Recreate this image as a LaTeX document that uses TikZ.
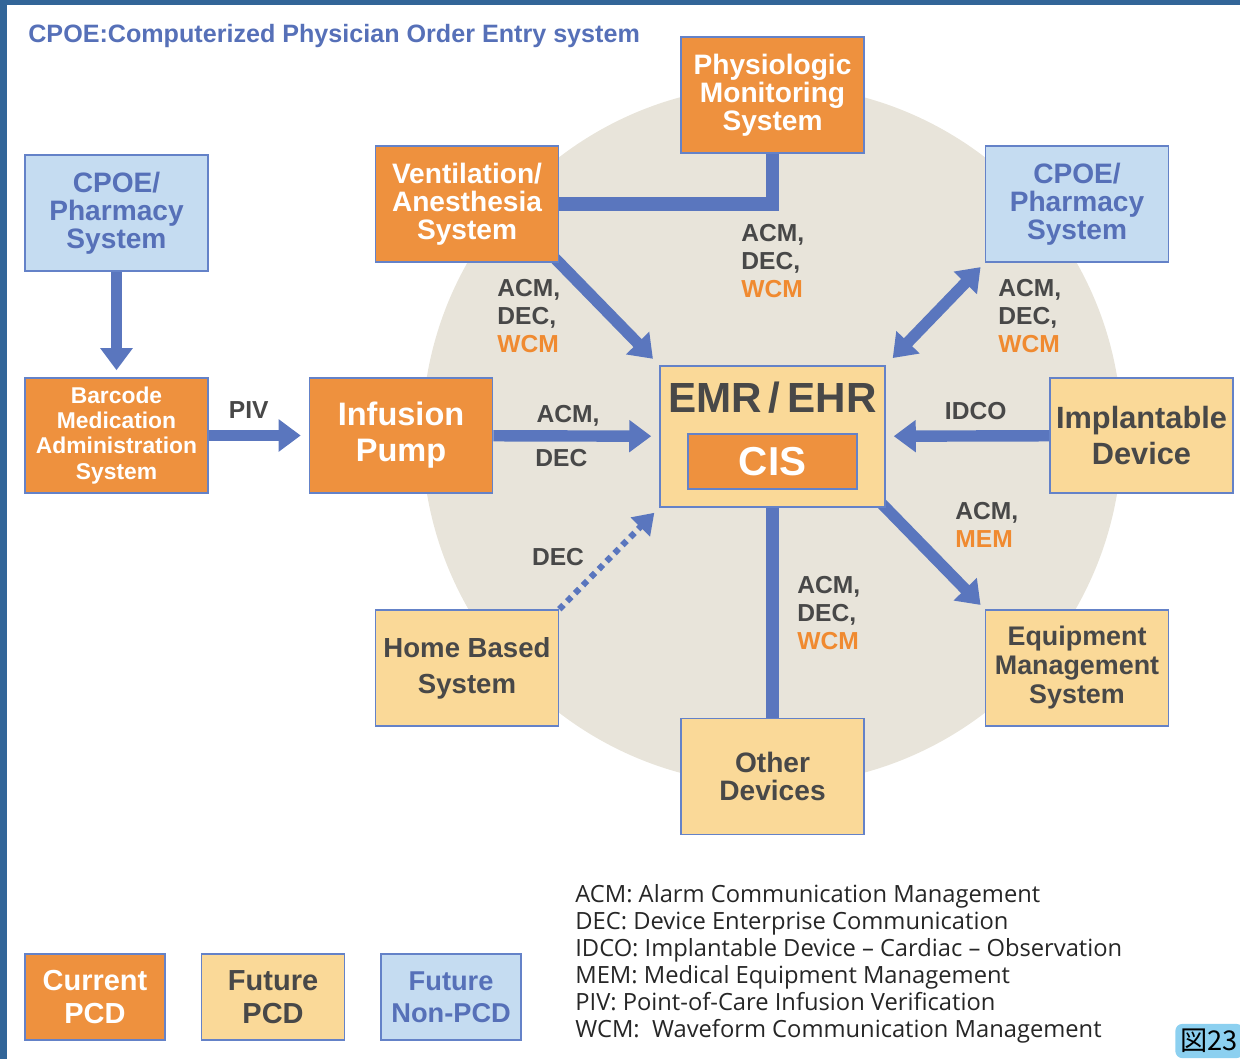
\documentclass[tikz,border=0pt]{standalone}
\usepackage{fontspec}
\setmainfont{Liberation Sans}
\newfontfamily\legendfont{Open Sans}
\newfontfamily\cjkfont{Noto Sans CJK JP}
\usetikzlibrary{positioning,arrows.meta,backgrounds}

\definecolor{framebg}{RGB}{50,101,152}
\definecolor{disc}{RGB}{232,228,218}
\definecolor{curpcd}{RGB}{238,145,62}
\definecolor{futpcd}{RGB}{250,217,152}
\definecolor{nonpcd}{RGB}{197,220,241}
\definecolor{linkblue}{RGB}{90,118,190}
\definecolor{boxline}{RGB}{100,130,200}
\definecolor{txtgray}{RGB}{72,72,72}
\definecolor{txtblue}{RGB}{86,112,184}
\definecolor{wcmorange}{RGB}{240,138,48}
\definecolor{badgeblue}{RGB}{140,208,240}

\begin{document}
\begin{tikzpicture}[x=0.02cm, y=-0.02cm, >={Triangle[length=0.44cm,width=0.62cm]},
  sys/.style={draw=boxline, line width=0.9pt, align=center, inner sep=0pt, minimum width=3.66cm, minimum height=2.32cm},
  cur/.style={sys, fill=curpcd, text=white},
  fut/.style={sys, fill=futpcd, text=txtgray},
  non/.style={sys, fill=nonpcd, text=txtblue},
  big/.style={font=\fontsize{16}{16}\selectfont\bfseries},
  lbl/.style={font=\fontsize{14}{16}\selectfont\bfseries, text=txtgray, align=left, inner sep=0pt},
  link/.style={draw=linkblue, line width=6.5pt},
  every node/.style={font=\bfseries}]

  \path[use as bounding box, clip] (0,0) rectangle (1240,1059);

  % title
  \node[anchor=west, inner sep=0pt, text=txtblue, font=\fontsize{14.3}{16}\selectfont\bfseries] (title) at (28,36) {CPOE:Computerized Physician Order Entry system};

  % systems
  \node[non, big] (cpoeL) at (116.5,213) {CPOE/\\Pharmacy\\System};
  \node[cur, font=\fontsize{13}{14.3}\selectfont\bfseries, minimum height=2.3cm] (bcma) at (116.5,435.5) {Barcode\\Medication\\Administration\\System};
  \node[cur, font=\fontsize{18.5}{20.5}\selectfont\bfseries, minimum height=2.3cm] (pump) at (401,435.5) {Infusion\\Pump};
  \node[cur, big] (vent) at (467,204) {Ventilation/\\Anesthesia\\System};
  \node[cur, big] (physio) at (772.5,95) {Physiologic\\Monitoring\\System};
  \node[non, big] (cpoeR) at (1077,204) {CPOE/\\Pharmacy\\System};
  \node[fut, minimum width=4.5cm, minimum height=2.82cm] (emr) at (772.5,436.5) {};
  \node[text=txtgray, inner sep=0pt, font=\fontsize{24}{26}\selectfont\bfseries] (ehr) at (772.5,398) {EMR\,/\,EHR};
  \node[cur, minimum width=3.38cm, minimum height=1.1cm, font=\fontsize{23}{23}\selectfont\bfseries] (cis) at (772.5,461.5) {CIS};
  \node[fut, font=\fontsize{17.5}{20.5}\selectfont\bfseries, minimum height=2.3cm] (implant) at (1141.5,435.5) {Implantable\\Device};
  \node[fut, font=\fontsize{15.3}{16.5}\selectfont\bfseries] (equip) at (1077,668) {Equipment\\Management\\System};
  \node[fut, big] (other) at (772.5,776.5) {Other\\Devices};
  \node[fut, font=\fontsize{15.7}{20.5}\selectfont\bfseries] (home) at (467,668) {Home Based\\System};

  % link labels
  \node[lbl, anchor=west] (lphysio) at (741,261) {ACM,\\DEC,\\\textcolor{wcmorange}{WCM}};
  \node[lbl, anchor=west] (lvent) at (497,316) {ACM,\\DEC,\\\textcolor{wcmorange}{WCM}};
  \node[lbl, anchor=west] (lcpoe) at (998,316) {ACM,\\DEC,\\\textcolor{wcmorange}{WCM}};
  \node[lbl, anchor=west] (lequip) at (955,525) {ACM,\\\textcolor{wcmorange}{MEM}};
  \node[lbl, anchor=west] (lother) at (797,613) {ACM,\\DEC,\\\textcolor{wcmorange}{WCM}};
  \node[lbl] (lhome) at (558,557) {DEC};

  % legend
  \node[cur, minimum width=2.8cm, minimum height=1.72cm, font=\fontsize{16.5}{18.5}\selectfont\bfseries] (lgcur) at (95,997) {Current\\PCD};
  \node[fut, minimum width=2.86cm, minimum height=1.72cm, font=\fontsize{16.5}{18.5}\selectfont\bfseries] (lgfut) [right=0.7cm of lgcur] {Future\\PCD};
  \node[non, minimum width=2.8cm, minimum height=1.72cm, font=\fontsize{15.5}{18.5}\selectfont\bfseries] (lgnon) [right=0.7cm of lgfut] {Future\\Non-PCD};

  \node[anchor=north west, align=left, inner sep=0pt, text=black!85, font=\legendfont\fontsize{13.5}{15.4}\selectfont] (abbr) at (575,884) {ACM: Alarm Communication Management\\DEC: Device Enterprise Communication\\IDCO: Implantable Device – Cardiac – Observation\\MEM: Medical Equipment Management\\PIV: Point-of-Care Infusion Verification\\WCM:\ \ Waveform Communication Management};

  \node[fill=badgeblue, rounded corners=4pt, anchor=west, inner sep=3pt, minimum height=0.62cm, font=\cjkfont\fontsize{15.5}{15.5}\selectfont] (fignum) at (1175,1041) {図23};

  % frame
  \fill[framebg] (0,0) rectangle (7,1059);
  \fill[framebg] (0,0) rectangle (1240,5);

  \begin{scope}[on background layer]
    \fill[disc] (772,435) circle (7cm);
    \draw[link, line width=7.5pt] (physio.south) |- (vent.east);
    \draw[link, line width=7.5pt] (emr.south) -- (other.north);
    \draw[link, ->, shorten <=-0.2cm, shorten >=0.18cm] (vent.south east) -- (emr.north west);
    \draw[link, <->, shorten <=0.12cm, shorten >=0.2cm] (cpoeR.south west) -- (emr.north east);
    \draw[link, ->, shorten <=-0.2cm, shorten >=0.12cm] (emr.south east) -- (equip.north west);
    \draw[linkblue, line width=3.5pt, dash pattern=on 3.4pt off 3pt, -{Triangle[length=0.4cm,width=0.52cm]}, shorten >=0.14cm] (home.north east) -- (emr.south west);
    \draw[link, ->, shorten >=0.14cm] (cpoeL) -- (bcma);
    \draw[link, ->, shorten >=0.16cm] (bcma) -- node[lbl, above=0.22cm, pos=0.4] {PIV} (pump);
    \draw[link, ->, shorten >=0.16cm] (pump) -- node[lbl, above=0.08cm, pos=0.45] {ACM,} node[lbl, below=0.15cm, pos=0.41] {DEC} (emr);
    \draw[link, ->, shorten >=0.16cm] (implant) -- node[lbl, above=0.22cm, pos=0.45] {IDCO} (emr);
  \end{scope}
\end{tikzpicture}
\end{document}
